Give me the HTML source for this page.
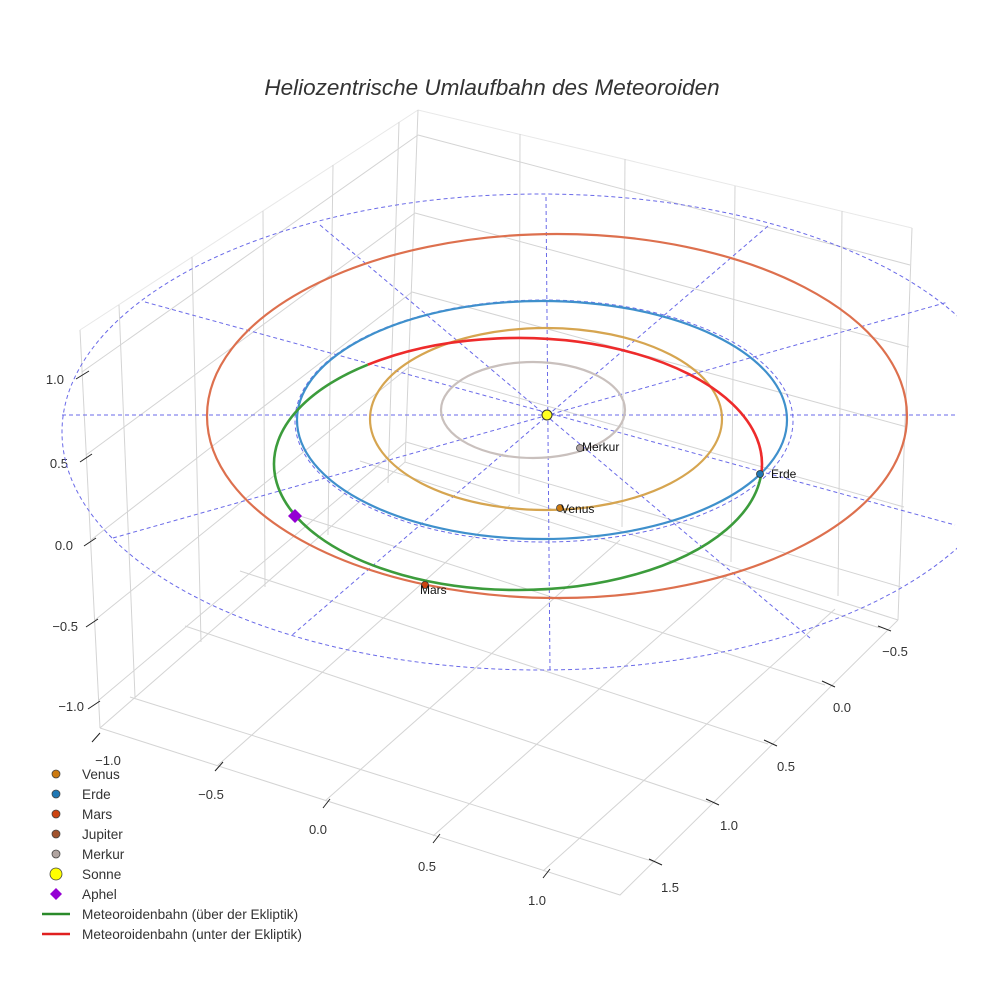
<!DOCTYPE html>
<html><head><meta charset="utf-8"><style>
html,body{margin:0;padding:0;background:#fff;}
svg{display:block;font-family:"Liberation Sans",sans-serif;}
</style></head><body>
<svg width="984" height="984" viewBox="0 0 984 984" xmlns="http://www.w3.org/2000/svg">
<defs><clipPath id="c"><rect x="0" y="0" width="957" height="984"/></clipPath></defs>
<rect width="984" height="984" fill="#fff"/>
<text x="492" y="95" text-anchor="middle" font-size="22.5" font-style="italic" fill="#333">Heliozentrische Umlaufbahn des Meteoroiden</text>

<g stroke="#d4d4d4" stroke-width="1" fill="none">
  <path d="M80,330 L418,110 L912,228" stroke="#e8e8e8"/>
  <path d="M80,330 L100,728 M418,110 L405,462 M912,228 L898,620"/>
  <path d="M100,728 L405,462 L898,620"/>
  <path d="M100,728 L620,895 L898,620"/>
  <path d="M119,305 L135,697 M192,257 L201,642 M263,211 L265,587 M333,165 L328,535 M399,122 L388,483"/>
  <path d="M82,372 L418,135 M86,455 L415,213 M91,540 L412,292 M95,620 L409,367 M99,700 L406,442"/>
  <path d="M418,135 L910,265 M415,213 L909,347 M412,292 L907,427 M409,367 L904,507 M406,442 L901,587"/>
  <path d="M520,134 L519,494 M625,159 L622,527 M735,186 L731,562 M842,211 L838,596"/>
  <path d="M217,766 L510,505 M325,801 L620,540 M433,836 L728,575 M543,871 L835,609"/>
  <path d="M880,628 L360,461 M825,685 L300,516 M768,744 L240,571 M711,803 L185,626 M655,862 L130,697"/>
</g>

<g stroke="#222" stroke-width="1">
  <path d="M76,379 L89,371 M80,462 L92,454 M84,546 L96,538 M86,627 L98,619 M88,709 L100,701"/>
  <path d="M92,742 L100,733 M215,771 L223,762 M323,808 L330,799 M433,843 L440,834 M543,878 L550,869"/>
  <path d="M878,626 L891,631 M822,681 L835,687 M764,740 L777,746 M706,799 L719,805 M649,859 L662,865"/>
</g>
<g font-size="13" fill="#333">
  <text x="64" y="384" text-anchor="end">1.0</text>
  <text x="68" y="468" text-anchor="end">0.5</text>
  <text x="73" y="550" text-anchor="end">0.0</text>
  <text x="78" y="631" text-anchor="end">−0.5</text>
  <text x="84" y="711" text-anchor="end">−1.0</text>
  <text x="108" y="765" text-anchor="middle">−1.0</text>
  <text x="211" y="799" text-anchor="middle">−0.5</text>
  <text x="318" y="834" text-anchor="middle">0.0</text>
  <text x="427" y="871" text-anchor="middle">0.5</text>
  <text x="537" y="905" text-anchor="middle">1.0</text>
  <text x="895" y="656" text-anchor="middle">−0.5</text>
  <text x="842" y="712" text-anchor="middle">0.0</text>
  <text x="786" y="771" text-anchor="middle">0.5</text>
  <text x="729" y="830" text-anchor="middle">1.0</text>
  <text x="670" y="892" text-anchor="middle">1.5</text>
</g>

<g stroke="#6a6ae8" stroke-width="1" fill="none" stroke-dasharray="4,3" clip-path="url(#c)">
  <ellipse cx="540" cy="432" rx="478" ry="238"/>
  <path d="M62,415 L957,415 M546,197 L550,672"/>
  <path d="M320,225 L810,638 M145,302 L955,525 M113,538 L948,302 M768,226 L291,636"/>
  <ellipse cx="544" cy="421" rx="249" ry="121"/>
</g>

<g fill="none" stroke-width="2.2">
  <ellipse cx="557" cy="416" rx="350" ry="182" stroke="#dd704e"/>
  <ellipse cx="542" cy="420" rx="245" ry="119" stroke="#3f90cc"/>
  <ellipse cx="546" cy="419" rx="176" ry="91" stroke="#d6a550"/>
  <ellipse cx="533" cy="410" rx="92" ry="48" stroke="#c9c0bd"/>
  <path d="M761.2,474.1 A244,126 0 1 1 367.8,364.7" stroke="#3c9c3c" stroke-width="2.6"/>
  <path d="M367.8,364.7 A244,126 0 0 1 761.2,474.1" stroke="#ee2b2b" stroke-width="2.6"/>
</g>

<circle cx="547" cy="415" r="5" fill="#ffff22" stroke="#333" stroke-width="1"/>
<circle cx="580" cy="448" r="3.5" fill="#b0a4a0" stroke="#444" stroke-width="0.8"/>
<circle cx="560" cy="508" r="3.5" fill="#cc7a10" stroke="#444" stroke-width="0.8"/>
<circle cx="760" cy="474" r="3.5" fill="#1f77b4" stroke="#333" stroke-width="0.8"/>
<circle cx="425" cy="585" r="3.5" fill="#cc4411" stroke="#333" stroke-width="0.8"/>
<path d="M295,509 L302,516 L295,523 L288,516 Z" fill="#9400d3"/>
<g font-size="12" fill="#111">
  <text x="582" y="451">Merkur</text>
  <text x="561" y="513">Venus</text>
  <text x="771" y="478">Erde</text>
  <text x="420" y="594">Mars</text>
</g>

<g font-size="13.6" fill="#333">
  <circle cx="56" cy="774" r="4" fill="#cc7a10" stroke="#444" stroke-width="0.8"/><text x="82" y="779">Venus</text>
  <circle cx="56" cy="794" r="4" fill="#1f77b4" stroke="#444" stroke-width="0.8"/><text x="82" y="799">Erde</text>
  <circle cx="56" cy="814" r="4" fill="#cc4411" stroke="#444" stroke-width="0.8"/><text x="82" y="819">Mars</text>
  <circle cx="56" cy="834" r="4" fill="#a0522d" stroke="#444" stroke-width="0.8"/><text x="82" y="839">Jupiter</text>
  <circle cx="56" cy="854" r="4" fill="#b0a4a0" stroke="#444" stroke-width="0.8"/><text x="82" y="859">Merkur</text>
  <circle cx="56" cy="874" r="6" fill="#ffff00" stroke="#444" stroke-width="0.8"/><text x="82" y="879">Sonne</text>
  <path d="M56,888 L62,894 L56,900 L50,894 Z" fill="#9400d3"/><text x="82" y="899">Aphel</text>
  <line x1="42" y1="914" x2="70" y2="914" stroke="#2a8a2a" stroke-width="2.5"/><text x="82" y="919">Meteoroidenbahn (über der Ekliptik)</text>
  <line x1="42" y1="934" x2="70" y2="934" stroke="#e02020" stroke-width="2.5"/><text x="82" y="939">Meteoroidenbahn (unter der Ekliptik)</text>
</g>
</svg>
</body></html>
